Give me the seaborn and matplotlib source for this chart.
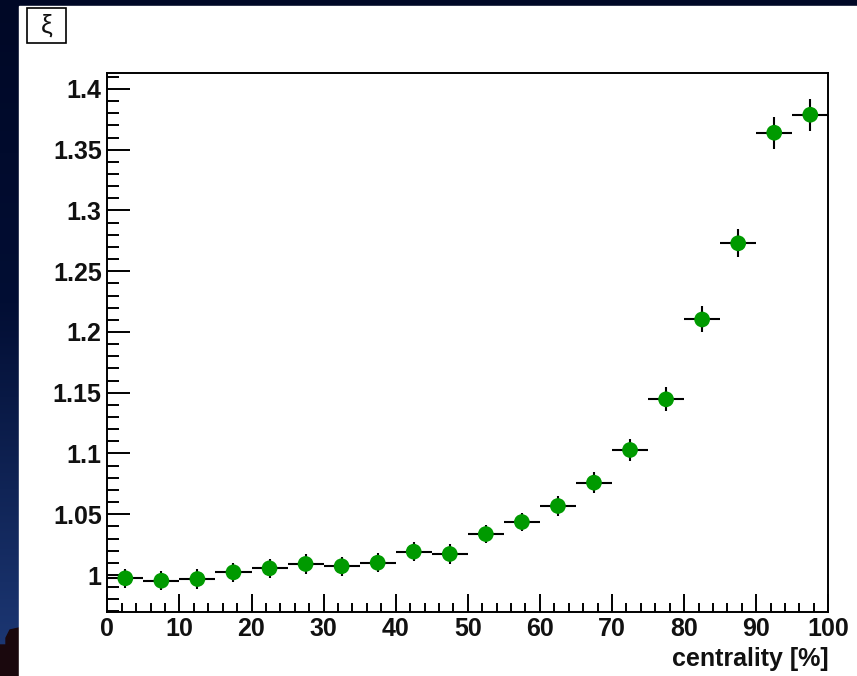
import numpy as np
import pandas as pd
import matplotlib
matplotlib.use("Agg")
import matplotlib.pyplot as plt
import matplotlib.patches as mpatches
from matplotlib.ticker import MultipleLocator, FuncFormatter
import seaborn as sns

# ---------------- data ----------------
centrality = [2.5, 7.5, 12.5, 17.5, 22.5, 27.5, 32.5, 37.5, 42.5, 47.5,
              52.5, 57.5, 62.5, 67.5, 72.5, 77.5, 82.5, 87.5, 92.5, 97.5]
xi = [0.9973, 0.9953, 0.9967, 1.0022, 1.0055, 1.0091, 1.0072, 1.0101, 1.0192, 1.0173,
      1.0337, 1.0436, 1.0568, 1.0760, 1.1029, 1.1446, 1.2103, 1.2730, 1.3640, 1.3788]
xi_err = [0.008, 0.008, 0.008, 0.008, 0.008, 0.008, 0.008, 0.008, 0.008, 0.008,
          0.0072, 0.0075, 0.0085, 0.0085, 0.0088, 0.0099, 0.0107, 0.0114, 0.013, 0.013]
bin_half_width = [2.5] * 20
x_ticks = [0, 10, 20, 30, 40, 50, 60, 70, 80, 90, 100]
y_ticks = [1.0, 1.05, 1.1, 1.15, 1.2, 1.25, 1.3, 1.35, 1.4]
x_label = "centrality [%]"
y_title = "ξ"

df = pd.DataFrame({"centrality": centrality, "xi": xi})

sns.set_theme(style="white")
plt.rcParams['font.family'] = ['Liberation Sans', 'DejaVu Sans']
plt.rcParams['font.weight'] = 'bold'

W, H = 857, 676
fig = plt.figure(figsize=(W / 100, H / 100), dpi=100)

# ---------------- slide background ----------------
bg = fig.add_axes([0, 0, 1, 1], zorder=-10)
yy = np.linspace(0, 1, 256)
top = np.array([0, 8, 38]) / 255
mid = np.array([2, 14, 52]) / 255
bot = np.array([30, 58, 120]) / 255
col = np.zeros((256, 1, 3))
for i, t in enumerate(yy):
    if t < 0.45:
        c = top + (mid - top) * (t / 0.45)
    else:
        c = mid + (bot - mid) * ((t - 0.45) / 0.55)
    col[i, 0] = c
bg.imshow(col, aspect='auto', extent=[0, W, H, 0])
# dark silhouette at bottom-left
bg.add_patch(mpatches.Polygon([[0, 676], [0, 645], [6, 645], [6, 638], [10, 630], [19, 628], [19, 676]],
                              closed=True, color=(0.10, 0.03, 0.05)))
bg.set_xlim(0, W)
bg.set_ylim(H, 0)
bg.axis('off')

# white panel
fig.patches.append(mpatches.Rectangle((19 / W, 0), 1 - 19 / W, (H - 6) / H,
                                      transform=fig.transFigure, color='white', zorder=-5))

# ---------------- plot ----------------
ax = fig.add_axes([107.3 / W, 1 - 611.7 / H, (828.3 - 107.3) / W, (611.7 - 72.7) / H])
ax.set_facecolor('white')

ax.errorbar(centrality, xi, xerr=bin_half_width, yerr=xi_err, fmt='none',
            ecolor='black', elinewidth=1.5, capsize=0, zorder=2)
sns.scatterplot(data=df, x="centrality", y="xi", ax=ax, color='#009a00',
                s=128, edgecolor='none', linewidth=0, zorder=3, legend=False)

ax.set_xlim(0, 100)
ax.set_ylim(0.9698, 1.4134)

ax.set_xticks(x_ticks)
ax.set_yticks(y_ticks)
ax.xaxis.set_minor_locator(MultipleLocator(2))
ax.yaxis.set_minor_locator(MultipleLocator(0.01))
ax.yaxis.set_major_formatter(FuncFormatter(lambda v, p: "%g" % round(v, 3)))
ax.xaxis.set_major_formatter(FuncFormatter(lambda v, p: "%g" % v))

ax.tick_params(axis='x', which='major', direction='in', length=12.7, width=1.4,
               labelsize=18, pad=4, bottom=True, top=False, color='black')
ax.tick_params(axis='x', which='minor', direction='in', length=6.5, width=1.4,
               bottom=True, top=False, color='black')
ax.tick_params(axis='y', which='major', direction='in', length=16.5, width=1.4,
               labelsize=18, pad=4, left=True, right=False, color='black')
ax.tick_params(axis='y', which='minor', direction='in', length=8.6, width=1.4,
               left=True, right=False, color='black')
for lab in ax.get_xticklabels() + ax.get_yticklabels():
    lab.set_fontweight('bold')
    lab.set_color('#111111')

for s in ax.spines.values():
    s.set_color('black')
    s.set_linewidth(1.4)

ax.set_xlabel(x_label, fontsize=18, fontweight='bold', loc='right', labelpad=4, color='#111111')
ax.set_ylabel("")

# y-axis title box (xi)
fig.patches.append(mpatches.Rectangle((27 / W, 1 - 43 / H), 39 / W, 35 / H,
                                      transform=fig.transFigure, fill=False,
                                      edgecolor='black', linewidth=1.2, zorder=5))
fig.text(46.5 / W, 1 - 25.5 / H, y_title, fontsize=19, ha='center', va='center',
         fontweight='normal', color='#111111')

fig.savefig("out.png", dpi=100)
